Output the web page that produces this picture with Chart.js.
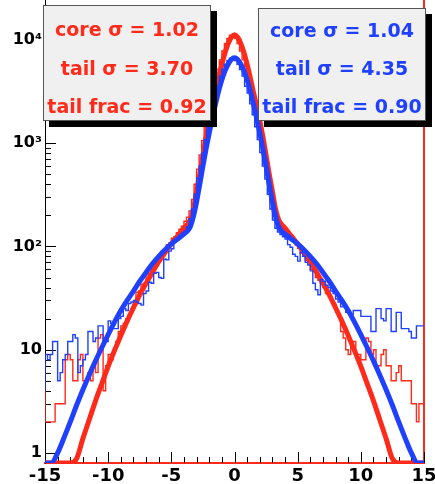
<!DOCTYPE html>
<html><head><meta charset="utf-8">
<script src="https://cdn.jsdelivr.net/npm/chart.js@4/dist/chart.umd.min.js"></script>
<style>
html,body{margin:0;padding:0;background:#fff;}
#wrap{position:relative;width:435px;height:484px;overflow:hidden;}
canvas{position:absolute;left:0;top:0;}
.box{position:absolute;background:#f0f0f0;border:1px solid #555;box-shadow:6px 6px 0 #000;font-family:"DejaVu Sans",sans-serif;font-weight:bold;font-size:19px;text-align:center;box-sizing:border-box;}
.box div{position:absolute;left:0;right:0;height:22px;line-height:22px;margin-top:-11px;white-space:nowrap;}
</style></head>
<body><div id="wrap"><canvas id="c" width="435" height="484"></canvas>
<div class="box" style="left:43px;top:5px;width:168px;height:116px;color:#ff2a1a">
<div style="top:23px">core σ = 1.02</div>
<div style="top:62px">tail σ = 3.70</div>
<div style="top:100px">tail frac = 0.92</div>
</div>
<div class="box" style="left:258px;top:8px;width:168px;height:113px;color:#2040ff">
<div style="top:21px">core σ = 1.04</div>
<div style="top:59px">tail σ = 4.35</div>
<div style="top:97px">tail frac = 0.90</div>
</div>
</div>
<script>
// ---- data ----
const fitX = [-15,-14.5,-14,-13.5,-13,-12.5,-12,-11.5,-11,-10.5,-10,-9.5,-9,-8.5,-8,-7.5,-7,-6.5,-6,-5.5,-5,-4.5,
  -4,-3.75,-3.5,-3.25,-3,-2.75,-2.5,-2.25,-2,-1.75,-1.5,-1.25,-1,-0.75,-0.5,-0.25,0,0.25,0.5,0.75,1,1.25,1.5,1.75,2,2.25,2.5,2.75,3,3.25,3.5,3.75,4,
  4.5,5,5.5,6,6.5,7,7.5,8,8.5,9,9.5,10,10.5,11,11.5,12,12.5,13,13.5,14,14.5,15];
const redFit = [0.07,0.12,0.2,0.34,0.55,0.88,1.38,2.1,3.2,4.7,6.9,9.8,13.7,18.9,25.5,34,44,56,71,87,106,126,
  150,162,180,230,340,500,760,1150,1650,2300,3100,4300,5800,7500,9200,10600,11200,10600,9200,7500,5800,4300,3100,2300,1650,1150,760,500,340,230,180,162,150,
  126,106,87,71,56,44,34,25.5,18.9,13.7,9.8,6.9,4.7,3.2,2.1,1.38,0.88,0.55,0.34,0.2,0.12,0.07];
const blueFit = [0.5,0.7,1.0,1.4,2.0,2.9,4.1,5.7,7.8,10.5,14,18.5,24,30,37,46,56,68,80,93,106,118,
  132,140,155,195,270,400,600,880,1250,1750,2400,3200,4100,5000,5800,6450,6700,6450,5800,5000,4100,3200,2400,1750,1250,880,600,400,270,195,155,140,132,
  118,106,93,80,68,56,46,37,30,24,18.5,14,10.5,7.8,5.7,4.1,2.9,2.0,1.4,1.0,0.7,0.5];

const binLow = -15, binWidth = 0.2;   // 150 bins from -15 to 15
const redHist = [
  4,2,2,2,2,3,3,3,3,8,9,8,5,5,8,9,5,5,6,5,7,6,13,14,4,7,9,8,10,12,15,17,18,20,22,25,
  29,36,37,43,44,53,55,64,66,75,78,90,93,104,108,120,124,136,147,157,175,192,220,285,400,560,770,1060,1420,1900,2450,3100,4050,5200,6400,7800,9200,10300,11100,
  11100,10300,9200,7800,6400,5200,4050,3100,2450,1900,1420,1060,770,560,400,285,215,188,170,158,146,134,125,117,112,103,96,86,81,73,70,60,57,50,47,44,40,35,34,
  30,28,23,21,15,13,10,9,12,12,9,9,8,8,13,12,9,10,7,7,9,10,7,7,5,5,6,7,5,5,5,5,3,3,2,3];
const blueHist = [
  4,9,8,9,12,12,5,6,8,9,12,12,14,13,6,7,8,9,15,15,12,13,17,17,12,12,19,18,16,16,20,21,25,24,28,29,
  30,29,28,27,35,37,45,44,55,56,50,49,75,74,90,95,110,116,128,134,140,155,185,230,320,460,600,800,1080,1450,1900,2400,3050,3550,4450,5200,5800,6300,6650,
  6650,6300,5800,5150,4450,3550,3050,2400,1880,1440,1080,810,600,450,320,230,180,150,138,130,124,118,104,98,84,80,72,88,80,70,66,58,44,38,34,48,46,42,40,
  37,35,31,29,26,26,23,23,22,24,24,24,21,21,21,21,15,15,25,25,20,19,25,25,15,15,23,23,16,16,16,15,13,13,17,17];

const xTickLabels = [-15,-10,-5,0,5,10,15];
const xMinorTicks = [-15,-14,-13,-12,-11,-10,-9,-8,-7,-6,-5,-4,-3,-2,-1,0,1,2,3,4,5,6,7,8,9,10,11,12,13,14,15];
const yTickValues = [1,2,3,4,5,6,7,8,9,10,20,30,40,50,60,70,80,90,100,200,300,400,500,600,700,800,900,1000,2000,3000,4000,5000,6000,7000,8000,9000,10000,20000];
const yTickLabels = {1:'1',10:'10',100:'10²',1000:'10³',10000:'10⁴'};

const RED = '#ff2a1a', BLUE = '#2040ff';
const Y_MIN = 0.80, Y_MAX = 24300;

const clampLow = v => Math.max(v, Y_MIN);
const fitPts = arr => fitX.map((x, i) => ({x, y: clampLow(arr[i])}));
const histPts = arr => {
  const pts = arr.map((v, i) => ({x: binLow + i * binWidth, y: v}));
  pts.push({x: binLow + arr.length * binWidth, y: arr[arr.length - 1]});
  return pts;
};

const innerTicks = {
  id: 'innerTicks',
  beforeDatasetsDraw(chart) {
    const {ctx, chartArea: a, scales: {x, y}} = chart;
    ctx.save();
    ctx.strokeStyle = '#000';
    ctx.lineWidth = 1;
    for (const v of yTickValues) {
      const py = Math.round(y.getPixelForValue(v)) + 0.5;
      if (py < a.top || py > a.bottom) continue;
      const len = yTickLabels[v] !== undefined ? 11 : 6;
      ctx.beginPath(); ctx.moveTo(a.left, py); ctx.lineTo(a.left + len, py); ctx.stroke();
    }
    for (const v of xMinorTicks) {
      const px = Math.round(x.getPixelForValue(v)) + 0.5;
      const len = xTickLabels.includes(v) ? 11 : 6;
      ctx.beginPath(); ctx.moveTo(px, a.bottom); ctx.lineTo(px, a.bottom - len); ctx.stroke();
    }
    ctx.restore();
  }
};

new Chart(document.getElementById('c'), {
  type: 'line',
  data: {
    datasets: [
      {data: fitPts(blueFit), borderColor: BLUE, borderWidth: 5, pointRadius: 0, cubicInterpolationMode: 'monotone', order: 0},
      {data: histPts(blueHist), borderColor: BLUE, borderWidth: 1.4, pointRadius: 0, stepped: 'after', order: 1},
      {data: fitPts(redFit), borderColor: RED, borderWidth: 5, pointRadius: 0, cubicInterpolationMode: 'monotone', order: 2},
      {data: histPts(redHist), borderColor: RED, borderWidth: 1.4, pointRadius: 0, stepped: 'after', order: 3}
    ]
  },
  options: {
    responsive: false,
    animation: false,
    devicePixelRatio: 1,
    layout: {padding: {left: 0, right: 11, top: 0, bottom: 0}},
    plugins: {legend: {display: false}, tooltip: {enabled: false}},
    scales: {
      x: {
        type: 'linear', min: -15, max: 15,
        afterBuildTicks: s => { s.ticks = xTickLabels.map(v => ({value: v})); },
        afterFit: s => { s.height = 21; s.paddingLeft = 0; s.paddingRight = 0; },
        ticks: {font: {family: 'DejaVu Sans', weight: 'bold', size: 18}, color: '#000', padding: 3, autoSkip: false, maxRotation: 0,
          callback: v => String(v)},
        grid: {display: false, drawTicks: false},
        border: {display: true, color: RED, width: 2}
      },
      y: {
        type: 'logarithmic', min: Y_MIN, max: Y_MAX,
        afterBuildTicks: s => { s.ticks = yTickValues.map(v => ({value: v})); },
        afterFit: s => { s.width = 45; s.paddingTop = 0; s.paddingBottom = 0; },
        ticks: {font: {family: 'DejaVu Sans', weight: 'bold', size: 16}, color: '#000', padding: 3, autoSkip: false,
          callback: v => (yTickLabels[v] !== undefined ? yTickLabels[v] : null)},
        grid: {display: false, drawTicks: false},
        border: {display: true, color: '#000', width: 1}
      },
      yR: {
        type: 'logarithmic', position: 'right', min: Y_MIN, max: Y_MAX,
        afterFit: s => { s.width = 0; s.paddingTop = 0; s.paddingBottom = 0; },
        ticks: {display: false},
        grid: {display: false, drawTicks: false},
        border: {display: true, color: RED, width: 2}
      }
    }
  },
  plugins: [innerTicks]
});
</script>
</body></html>
